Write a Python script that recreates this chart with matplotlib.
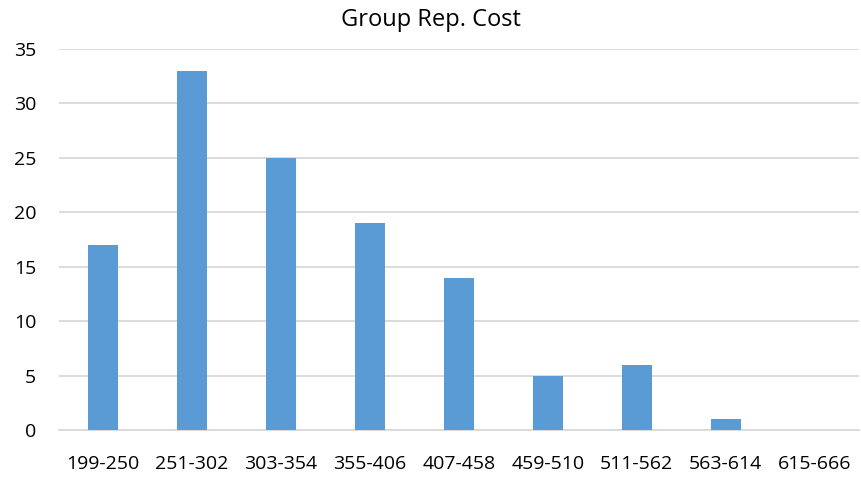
import matplotlib
matplotlib.use('Agg')
import matplotlib.pyplot as plt

# Cost bins and counts per bin
bins = ['199-250', '251-302', '303-354', '355-406', '407-458',
        '459-510', '511-562', '563-614', '615-666']
counts = [17, 33, 25, 19, 14, 5, 6, 1, 0]

plt.rcParams['font.family'] = ['Open Sans', 'DejaVu Sans']

fig = plt.figure(figsize=(8.61, 4.8), dpi=100)
ax = fig.add_axes([0.068, 0.104, 0.930, 0.794])

x = range(len(bins))
ax.bar(x, counts, width=0.33, color='#5b9bd5', zorder=3)

ax.set_xlim(-0.5, len(bins) - 0.5)
ax.set_ylim(0, 35)
ax.set_yticks(range(0, 36, 5))
ax.set_xticks(list(x))
ax.set_xticklabels(bins)

ax.grid(axis='y', color='#d9d9d9', linewidth=1.3, zorder=0)
for side in ['top', 'right', 'left']:
    ax.spines[side].set_visible(False)
ax.spines['bottom'].set_color('#d9d9d9')
ax.spines['bottom'].set_linewidth(1.3)
ax.tick_params(axis='both', length=0, labelsize=14, colors='black')
ax.tick_params(axis='x', pad=18)
ax.tick_params(axis='y', pad=16)

fig.text(0.5, 0.958, 'Group Rep. Cost', ha='center', va='center', fontsize=17)

fig.savefig('out.png', dpi=100)
